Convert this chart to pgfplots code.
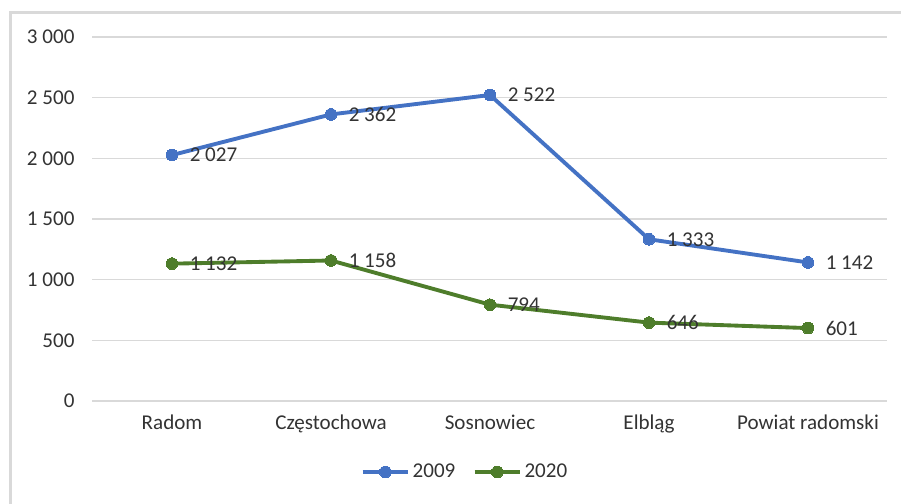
\documentclass[border=0pt]{standalone}
\usepackage{fontspec}
\setmainfont{Carlito}
\usepackage{pgfplots}
\pgfplotsset{compat=1.18}
\definecolor{cblue}{HTML}{4472C4}
\definecolor{cgreen}{HTML}{4E7D2B}
\definecolor{ctext}{HTML}{333333}
\definecolor{cgrid}{HTML}{D9D9D9}
\begin{document}
\begin{tikzpicture}
\path[use as bounding box] (0pt,0pt) rectangle (675.75pt,-378pt);
\draw[cgrid, line width=2.25pt] (7.875pt,-378pt) -- (7.875pt,-9.375pt) -- (675.75pt,-9.375pt);
\begin{axis}[
  at={(69.375pt,-300.75pt)}, anchor=south west,
  scale only axis, width=596.25pt, height=273pt,
  xmin=-0.5, xmax=4.5, ymin=0, ymax=3000,
  axis line style={draw=none},
  major tick length=0pt,
  ymajorgrids, grid style={cgrid, line width=1.1pt},
  ytick={0,500,...,3000},
  yticklabels={0,500,1 000,1 500,2 000,2 500,3 000},
  xtick={0,1,2,3,4},
  xticklabels={Radom,Częstochowa,Sosnowiec,Elbląg,Powiat radomski},
  tick label style={font=\fontsize{15.8}{18}\selectfont, text=ctext},
  yticklabel style={xshift=-10pt},
  xticklabel style={yshift=-7pt},
  /pgf/number format/.cd, 1000 sep={\ }, assume math mode=true, /pgfplots/.cd,
  nodes near coords,
  every node near coord/.append style={anchor=west, xshift=10pt, yshift=0pt, font=\fontsize{15.8}{18}\selectfont, text=ctext},
  legend style={draw=none, fill=none, at={(0.469,-0.195)}, anchor=center, legend columns=2,
    font=\fontsize{15.8}{18}\selectfont, text=ctext,
    /tikz/every even column/.append style={column sep=11pt}},
  legend image code/.code={\draw[mark repeat=2,mark phase=2,#1] plot coordinates {(0pt,0pt)(17pt,0pt)(34pt,0pt)};},
  clip=false,
]
\addplot[cblue, line width=2.9pt, line join=round, mark=*, mark size=4.4pt, mark options={fill=cblue, draw=cblue, line width=0pt}]
  coordinates {(0,2027) (1,2362) (2,2522) (3,1333) (4,1142)};
\addlegendentry{2009}
\addplot[cgreen, line width=2.9pt, line join=round, mark=*, mark size=4.4pt, mark options={fill=cgreen, draw=cgreen, line width=0pt}]
  coordinates {(0,1132) (1,1158) (2,794) (3,646) (4,601)};
\addlegendentry{2020}
\end{axis}
\end{tikzpicture}
\end{document}
